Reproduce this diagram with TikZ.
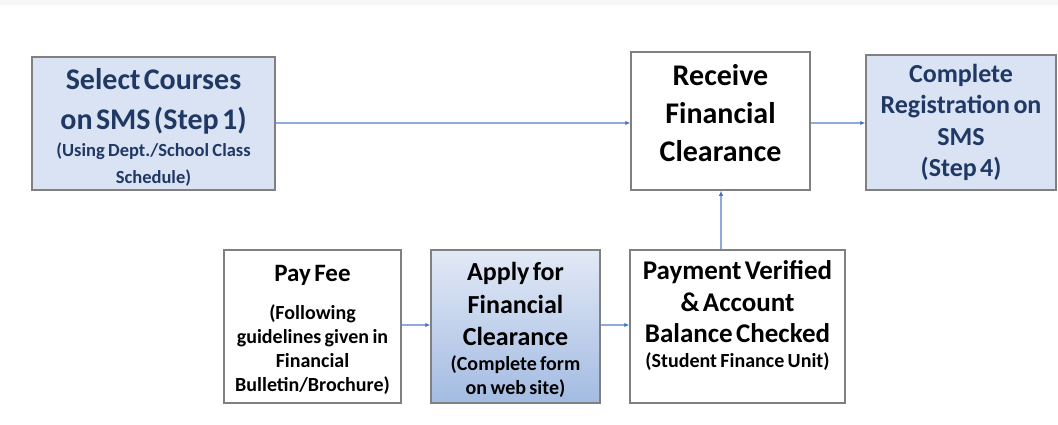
\documentclass[tikz,border=0pt]{standalone}
\usepackage{fontspec}
\setmainfont{Carlito}
\usetikzlibrary{arrows.meta}
\definecolor{boxblue}{HTML}{DAE3F3}
\definecolor{navy}{HTML}{203864}
\definecolor{edge}{HTML}{808080}
\definecolor{arrowblue}{HTML}{4472C4}
\definecolor{lineblue}{HTML}{8FAADC}
\definecolor{gradtop}{HTML}{E2E9F6}
\definecolor{gradbot}{HTML}{A3BBE2}
\tikzset{
  box/.style={draw=edge, line width=1.5pt, rectangle, inner sep=0pt, align=center, font=\bfseries},
  bluebox/.style={box, fill=boxblue, text=navy},
  whitebox/.style={box, fill=white, text=black},
  flow/.style={draw=lineblue, line width=1.1pt, -{Latex[length=5pt,width=4.5pt,color=arrowblue]}},
}
\newcommand{\fs}[2]{\fontsize{#1}{#2}\selectfont}
\newcommand{\up}[1]{\rule{0pt}{#1}}
\newcommand{\dn}[1]{\rule[-#1]{0pt}{0pt}}
\begin{document}
\begin{tikzpicture}[x=1pt,y=-1pt]
\useasboundingbox (0,0) rectangle (1058,424);
\fill[black!3] (0,0) rectangle (1058,5);
\node[bluebox, minimum width=243pt, minimum height=133pt, text width=240pt] (sel) at (153.5,123.5)
  {\fs{30}{40}\up{28pt}Select Courses\\on SMS (Step 1)\par
   \fs{18.5}{27}(Using Dept./School Class\\Schedule)\par};
\node[whitebox, minimum width=179pt, minimum height=138pt, text width=176pt] (rec) at (720.5,121)
  {\fs{30}{38}Receive\\Financial\\Clearance\dn{17pt}\par};
\node[bluebox, minimum width=190pt, minimum height=135pt, text width=187pt] (com) at (961,122.5)
  {\fs{26}{31.5}Complete\\Registration on\\SMS\\(Step 4)\par};
\node[whitebox, minimum width=177pt, minimum height=153pt, text width=174pt] (pay) at (312.5,326.5)
  {\fs{25}{32}\up{24pt}Pay Fee\par\vspace{14pt}
   \fs{20}{24}(Following\\guidelines given in\\Financial\\Bulletin/Brochure)\par};
\node[box, top color=gradtop, bottom color=gradbot, text=black, minimum width=169pt, minimum height=153pt, text width=166pt] (app) at (515.5,326.5)
  {\fs{26}{32.5}\up{26pt}Apply for\\Financial\\Clearance\par
   \fs{20}{24.5}(Complete form\\on web site)\par};
\node[whitebox, minimum width=215pt, minimum height=153pt, text width=212pt] (ver) at (737.5,326.5)
  {\fs{27}{31.5}Payment Verified\\\& Account\\Balance Checked\par
   \fs{20}{25}(Student Finance Unit)\dn{24pt}\par};
\draw[flow] (sel.east |- 0,123) -- (rec.west |- 0,123);
\draw[flow] (rec.east |- 0,123) -- (com.west |- 0,123);
\draw[flow] (pay.east |- 0,325) -- (app.west |- 0,325);
\draw[flow] (app.east |- 0,325) -- (ver.west |- 0,325);
\draw[flow] (ver.north -| 721,0) -- (rec.south -| 721,0);
\end{tikzpicture}
\end{document}
